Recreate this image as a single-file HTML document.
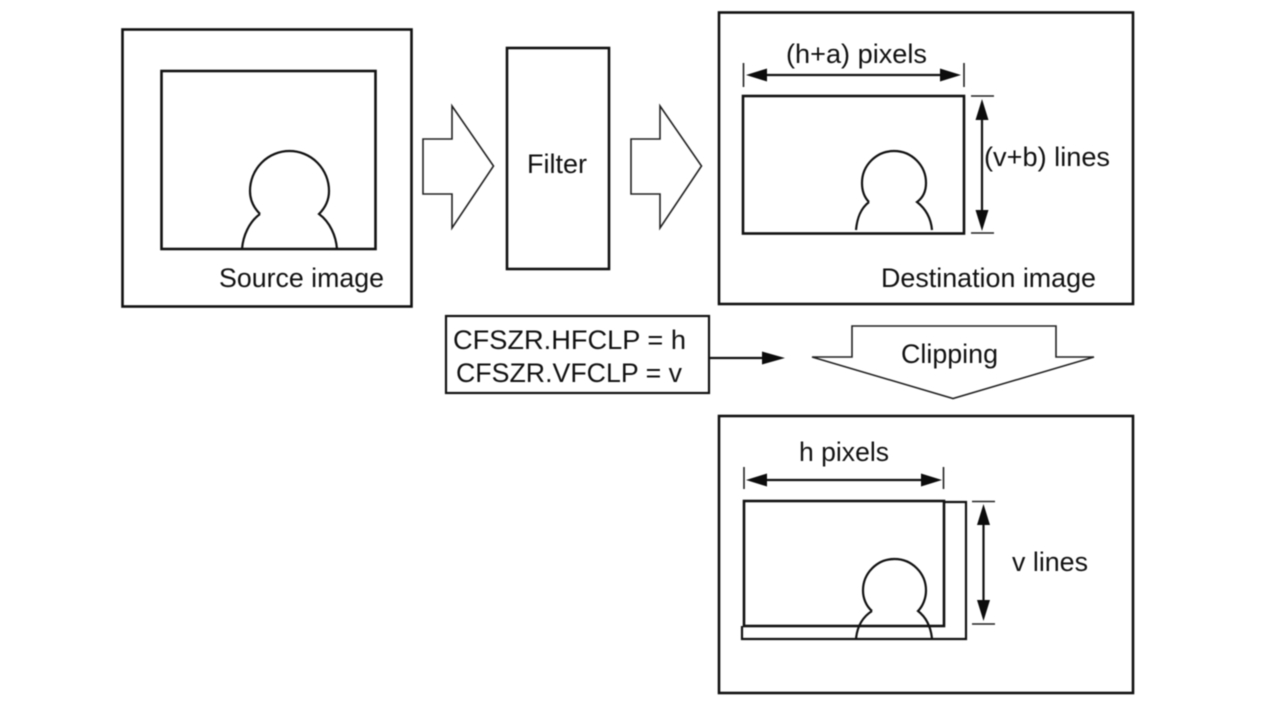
<!DOCTYPE html>
<html>
<head>
<meta charset="utf-8">
<style>
html,body{margin:0;padding:0;background:#fff;width:1280px;height:721px;overflow:hidden}
svg{display:block;filter:blur(.4px)}
text{font-family:"Liberation Sans",sans-serif;font-size:27px;fill:#111}
.b{fill:none;stroke:#111;stroke-width:2.6}
.m{fill:none;stroke:#111;stroke-width:2.2}
.t{fill:none;stroke:#222;stroke-width:1.6}
.a{fill:#0c0c0c;stroke:none}
</style>
</head>
<body>
<svg width="1280" height="721" viewBox="0 0 1280 721" xmlns="http://www.w3.org/2000/svg">
<!-- Source -->
<rect class="b" x="122.5" y="29.5" width="289" height="277"/>
<rect class="b" x="161.5" y="71" width="214" height="178"/>
<path class="m" d="M260 214 C254 208 250 200 250 191 A39.5 40 0 1 1 329 191 C329 200 325 208 319 214 C330 222 336 236 337 249 M260 214 C249 222 243 236 242 249"/>
<text x="219" y="287" textLength="165" lengthAdjust="spacingAndGlyphs">Source image</text>

<!-- Arrow 1 -->
<path class="t" d="M423 139 H452 V106 L493.500 166 L452 228 V194 H423 Z"/>
<!-- Filter -->
<rect class="b" x="507" y="48" width="102" height="221"/>
<text x="527" y="173" textLength="60" lengthAdjust="spacingAndGlyphs">Filter</text>
<!-- Arrow 2 -->
<path class="t" d="M631 139 H660 V106 L701.500 166 L660 228 V194 H631 Z"/>

<!-- Destination -->
<rect class="b" x="719" y="12.500" width="414" height="291.500"/>
<rect class="b" x="743" y="96" width="221" height="137.500"/>
<path class="m" d="M869 202 C864 197 862 190 862 183 A32 32 0 1 1 926 183 C926 190 924 197 917 202 C926 209 931 219 932 230 M869 202 C860 209 857 219 856 230"/>
<text x="786" y="63" textLength="141" lengthAdjust="spacingAndGlyphs">(h+a) pixels</text>
<text x="984" y="166" textLength="126" lengthAdjust="spacingAndGlyphs">(v+b) lines</text>
<text x="881" y="287" textLength="215" lengthAdjust="spacingAndGlyphs">Destination image</text>
<path class="t" d="M743.500 63 V87 M964 63 V87"/>
<path class="m" d="M755 75 H951"/>
<path class="a" d="M746 75 L767 68.500 V81.500 Z M961 75 L940 68.500 V81.500 Z"/>
<path class="t" d="M971 96 H994 M971 233 H994"/>
<path class="m" d="M982 110 V220"/>
<path class="a" d="M982 99 L975.500 120 H988.500 Z M982 231 L975.500 210 H988.500 Z"/>

<!-- Register box -->
<rect class="m" x="446" y="316" width="263" height="77"/>
<text x="453" y="349" textLength="233" lengthAdjust="spacingAndGlyphs">CFSZR.HFCLP = h</text>
<text x="456" y="382" textLength="226" lengthAdjust="spacingAndGlyphs">CFSZR.VFCLP = v</text>
<path class="m" d="M710 358 H770"/>
<path class="a" d="M785 358 L762 351.500 V364.500 Z"/>

<!-- Clipping arrow -->
<path class="t" d="M852 326 H1056 V357 H1094 L953 398.500 L812 357 H852 Z"/>
<text x="901" y="363" textLength="97" lengthAdjust="spacingAndGlyphs">Clipping</text>

<!-- Clipped -->
<rect class="b" x="719" y="416" width="414" height="277"/>
<path class="m" d="M944 502 H966 V639 H742 V626"/>
<rect class="b" x="744" y="501" width="200" height="125"/>
<path class="m" d="M872 611 C866 606 863 598 863 590.500 A31.500 31.500 0 1 1 926 590.500 C926 598 923 606 918 611 C927 618 931 628 932 639 M872 611 C861 618 857 628 856 639"/>
<text x="799" y="461" textLength="90" lengthAdjust="spacingAndGlyphs">h pixels</text>
<text x="1012" y="571" textLength="76" lengthAdjust="spacingAndGlyphs">v lines</text>
<path class="t" d="M744 467 V489 M943.500 467 V489"/>
<path class="m" d="M755 480 H933"/>
<path class="a" d="M746 480 L767 473.500 V486.500 Z M942 480 L921 473.500 V486.500 Z"/>
<path class="t" d="M972 501.500 H995 M972 624 H995"/>
<path class="m" d="M983.500 515 V610"/>
<path class="a" d="M983.500 504 L977 525 H990 Z M983.500 621 L977 600 H990 Z"/>
</svg>
</body>
</html>
